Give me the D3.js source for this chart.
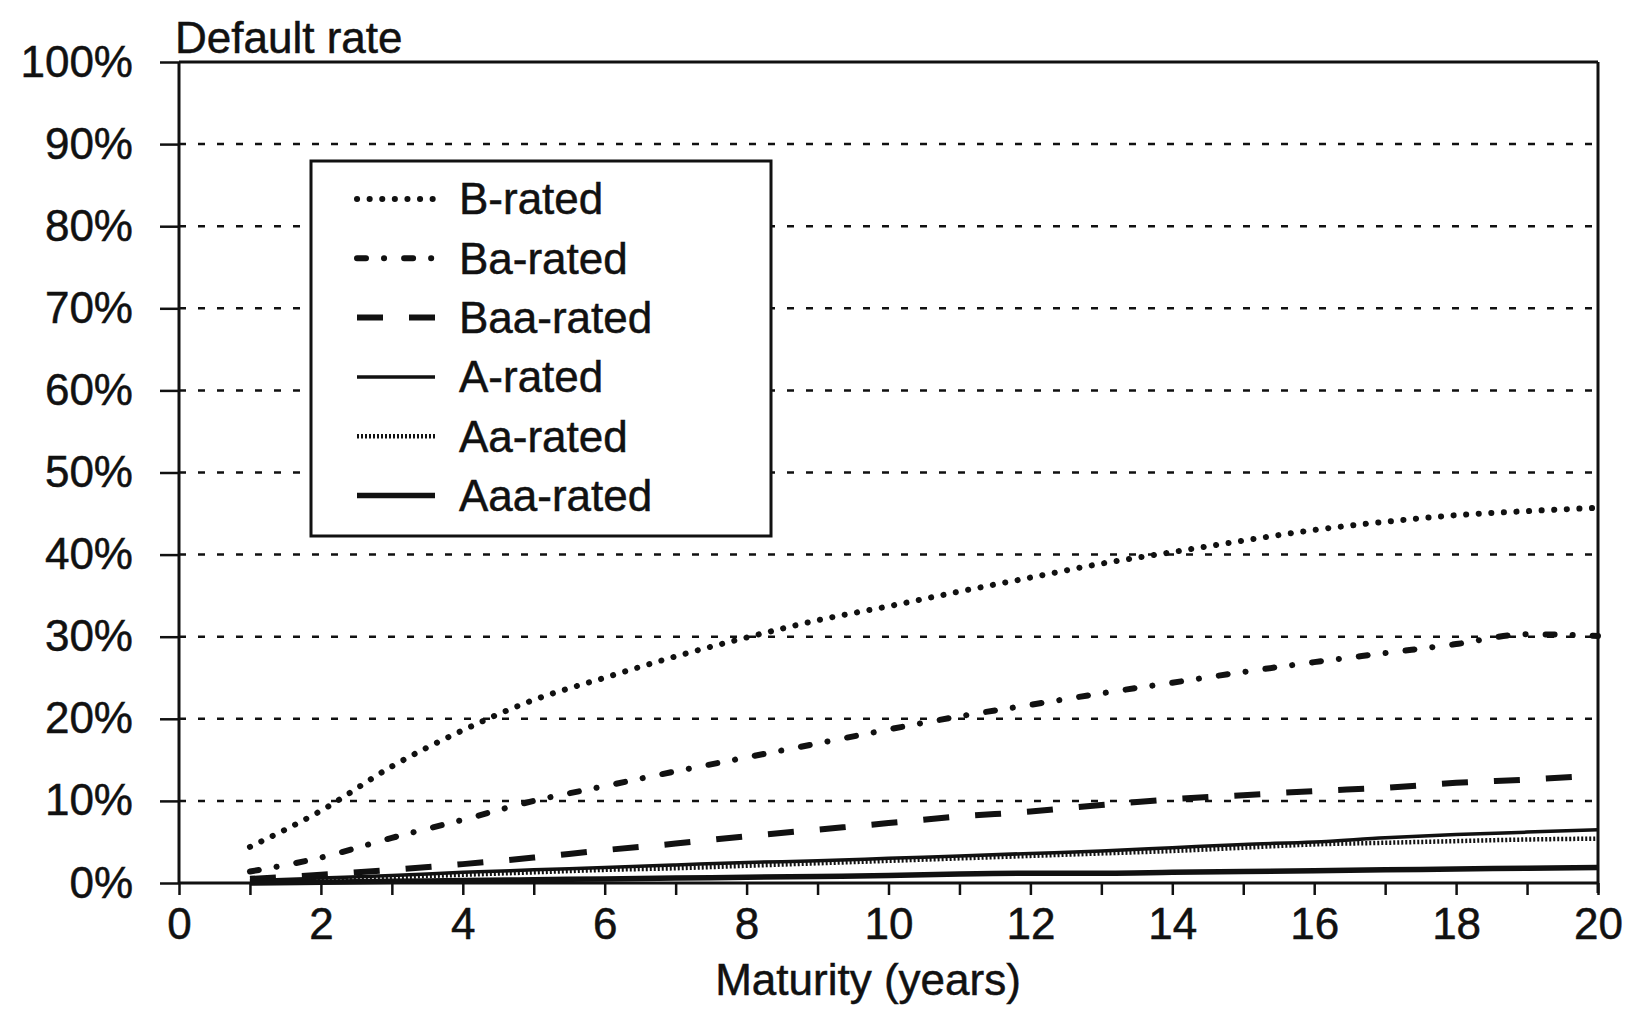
<!DOCTYPE html>
<html>
<head>
<meta charset="utf-8">
<title>Default rate by maturity</title>
<script src="https://d3js.org/d3.v7.min.js"></script>
<style>
  body { margin: 0; background: #fff; }
  text { font-family: "Liberation Sans", Arial, sans-serif; font-size: 44px; fill: #111; stroke: #111; stroke-width: 0.5px; }
  .grid line { stroke: #111; stroke-width: 2.5; stroke-dasharray: 7,12; }
  .frame { stroke: #111; stroke-width: 3; fill: none; }
  .axis line { stroke: #111; stroke-width: 2.5; }
  .series { fill: none; stroke: #111; }
</style>
</head>
<body>
<svg width="1631" height="1015"></svg>
<script>
// maturity in years
var years = [1, 2, 3, 4, 5, 6, 7, 8, 9, 10, 11, 12, 13, 14, 15, 16, 17, 18, 19, 20];

// cumulative default rate, %
var bRated   = [4.4, 8.8, 14.2, 18.6, 22.3, 25.0, 27.6, 29.9, 32.0, 33.7, 35.5, 37.2, 38.9, 40.3, 41.7, 43.0, 44.0, 44.8, 45.3, 45.7];
var baRated  = [1.4, 3.1, 5.5, 7.7, 10.0, 11.8, 13.6, 15.3, 17.0, 18.7, 20.3, 21.7, 23.1, 24.4, 25.7, 26.9, 28.0, 29.1, 30.3, 30.1];
var baaRated = [0.5, 1.0, 1.6, 2.3, 3.1, 4.0, 4.8, 5.7, 6.5, 7.3, 8.1, 8.7, 9.5, 10.2, 10.7, 11.2, 11.6, 12.2, 12.6, 13.1];
var aRated   = [0.3, 0.6, 0.9, 1.3, 1.6, 1.9, 2.2, 2.5, 2.7, 3.0, 3.3, 3.6, 3.9, 4.3, 4.7, 5.0, 5.5, 5.9, 6.2, 6.5];
var aaRated  = [0.2, 0.4, 0.7, 1.0, 1.3, 1.6, 1.8, 2.1, 2.4, 2.7, 3.0, 3.3, 3.6, 3.9, 4.3, 4.7, 4.9, 5.1, 5.3, 5.4];
var aaaRated = [0.0, 0.1, 0.2, 0.3, 0.4, 0.5, 0.6, 0.7, 0.8, 0.9, 1.1, 1.2, 1.2, 1.3, 1.4, 1.5, 1.6, 1.7, 1.8, 1.9];

var seriesNames = ["B-rated", "Ba-rated", "Baa-rated", "A-rated", "Aa-rated", "Aaa-rated"];
var xTicks = [0, 1, 2, 3, 4, 5, 6, 7, 8, 9, 10, 11, 12, 13, 14, 15, 16, 17, 18, 19, 20];
var yTicks = [0, 10, 20, 30, 40, 50, 60, 70, 80, 90, 100];

// line look per series (same order as seriesNames)
var styles = [
  {w: 6,   dash: "0.1,12.5",        cap: "round"},
  {w: 6,   dash: "9,18,0.1,20",     cap: "round"},
  {w: 6,   dash: "26,26",           cap: "butt"},
  {w: 3.5, dash: null,              cap: "butt"},
  {w: 4.5, dash: "2,2",             cap: "butt"},
  {w: 5.5, dash: null,              cap: "butt"}
];

var allSeries = [bRated, baRated, baaRated, aRated, aaRated, aaaRated].map(function(vals, i) {
  return {name: seriesNames[i], style: styles[i],
          points: years.map(function(y, j) { return {x: y, v: vals[j]}; })};
});

var svg = d3.select("svg");
var plotLeft = 179, plotRight = 1598, plotTop = 62, plotBottom = 883;

var x = d3.scaleLinear().domain([0, 20]).range([plotLeft, plotRight]);
var y = d3.scaleLinear().domain([0, 100]).range([plotBottom, plotTop]);

// dashed gridlines
svg.append("g").attr("class", "grid")
  .selectAll("line")
  .data(yTicks.filter(function(d) { return d > 0 && d < 100; }))
  .enter().append("line")
  .attr("x1", x(0)).attr("x2", x(20))
  .attr("y1", function(d) { return y(d); })
  .attr("y2", function(d) { return y(d); });

// y axis
var yAxis = svg.append("g").attr("class", "axis")
  .attr("transform", "translate(" + plotLeft + ",0)")
  .call(d3.axisLeft(y).tickValues(yTicks).tickSize(19).tickPadding(27)
    .tickFormat(function(d) { return d + "%"; }));
yAxis.select(".domain").remove();

// x axis
var xAxis = svg.append("g").attr("class", "axis")
  .attr("transform", "translate(0," + plotBottom + ")")
  .call(d3.axisBottom(x).tickValues(xTicks).tickSize(12).tickPadding(13)
    .tickFormat(function(d) { return d % 2 === 0 ? d : ""; }));
xAxis.select(".domain").remove();
svg.selectAll(".axis text").style("font-size", "44px").style("font-family", "'Liberation Sans', Arial, sans-serif").attr("fill", "#111");

// frame
svg.append("line").attr("class", "frame").attr("x1", x(0)).attr("x2", x(20)).attr("y1", y(100)).attr("y2", y(100));
svg.append("line").attr("class", "frame").attr("x1", x(0)).attr("x2", x(20)).attr("y1", y(0)).attr("y2", y(0));
svg.append("line").attr("class", "frame").attr("x1", x(0)).attr("x2", x(0)).attr("y1", y(100)).attr("y2", y(0));
svg.append("line").attr("class", "frame").attr("x1", x(20)).attr("x2", x(20)).attr("y1", y(100)).attr("y2", y(0) + 10);

// series
var line = d3.line()
  .x(function(d) { return x(d.x); })
  .y(function(d) { return y(d.v); })
  .curve(d3.curveMonotoneX);

svg.append("g").selectAll("path")
  .data(allSeries)
  .enter().append("path")
  .attr("class", "series")
  .attr("d", function(d) { return line(d.points); })
  .attr("stroke-width", function(d) { return d.style.w; })
  .attr("stroke-dasharray", function(d) { return d.style.dash; })
  .attr("stroke-linecap", function(d) { return d.style.cap; });

// titles
svg.append("text").attr("x", 175).attr("y", 53).text("Default rate");
svg.append("text").attr("x", 868).attr("y", 995).attr("text-anchor", "middle").text("Maturity (years)");

// legend
var legend = svg.append("g").attr("transform", "translate(311,161)");
legend.append("rect").attr("width", 460).attr("height", 375)
  .attr("fill", "#fff").attr("stroke", "#111").attr("stroke-width", 3);

var rows = legend.selectAll("g.row")
  .data(allSeries)
  .enter().append("g")
  .attr("class", "row")
  .attr("transform", function(d, i) { return "translate(0," + (38 + i * 59.3) + ")"; });

rows.append("line")
  .attr("x1", 46).attr("x2", 124)
  .attr("stroke", "#111")
  .attr("stroke-width", function(d) { return d.style.w; })
  .attr("stroke-dasharray", function(d) { return d.style.dash; })
  .attr("stroke-linecap", function(d) { return d.style.cap; });

rows.append("text")
  .attr("x", 148).attr("dy", "0.35em")
  .text(function(d) { return d.name; });
</script>
</body>
</html>
